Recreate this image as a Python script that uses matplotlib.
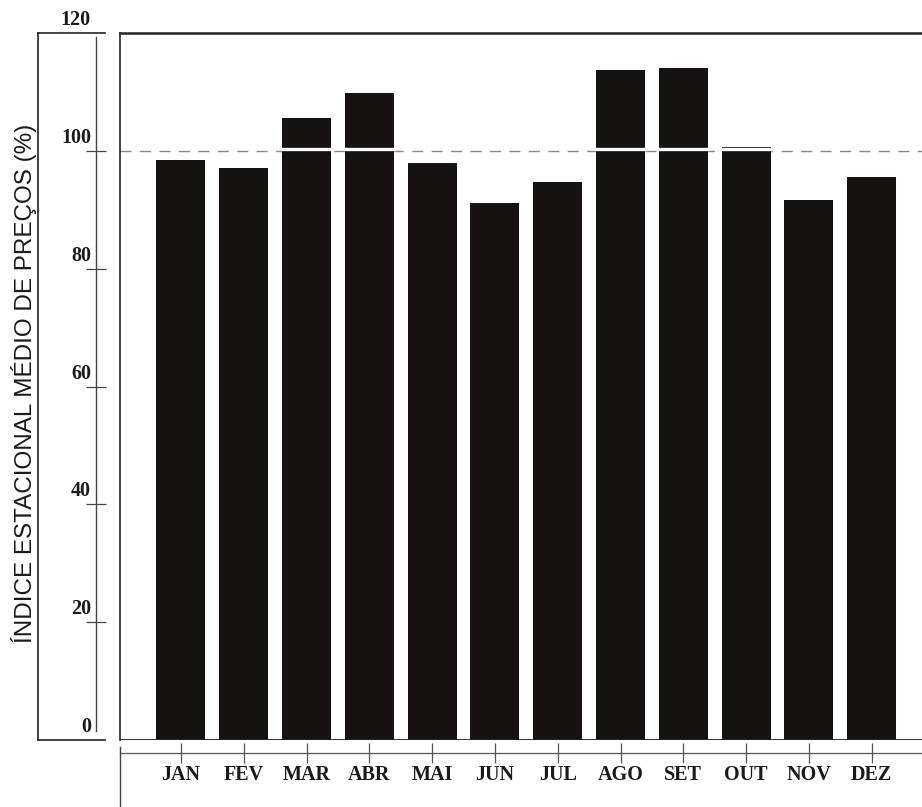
import matplotlib
matplotlib.use("Agg")
import matplotlib.pyplot as plt
from matplotlib.lines import Line2D
import numpy as np

months = ["JAN", "FEV", "MAR", "ABR", "MAI", "JUN", "JUL", "AGO", "SET", "OUT", "NOV", "DEZ"]
values = [98.4, 97.1, 105.5, 109.8, 98.0, 91.1, 94.7, 113.7, 114.0, 100.6, 91.7, 95.5]
y_ticks = [0, 20, 40, 60, 80, 100, 120]
y_label = "ÍNDICE ESTACIONAL MÉDIO DE PREÇOS (%)"
reference = 100

W, H = 922, 807
fig = plt.figure(figsize=(W / 100, H / 100), dpi=100)
fig.patch.set_facecolor("white")

serif = ["Liberation Serif", "DejaVu Serif"]
sans = ["Liberation Sans", "DejaVu Sans"]

bottom = (H - 740) / H
height = (740 - 33) / H
ink = "#161212"

# main plot
ax = fig.add_axes([120 / W, bottom, 1 - 120 / W, height])
x = np.arange(len(months))
bw = 0.78
ax.bar(x, values, width=bw, color=ink, zorder=3)
ax.set_xlim(-0.97, 11.8)
ax.set_ylim(0, 120)

# reference dashed line at 100
ax.axhline(reference, color="#888888", lw=1.0, ls=(0, (8, 6)), zorder=1)
# white gap across bars exceeding 100
xv = np.array(x, dtype=float)
vv = np.array(values)
sel = vv > reference
ax.hlines([reference + 0.3] * int(sel.sum()), xv[sel] - bw / 2 - 0.02, xv[sel] + bw / 2 + 0.02,
          colors="white", lw=2.4, zorder=4)

# frame
ax.spines["right"].set_visible(False)
ax.spines["top"].set_linewidth(1.8)
ax.spines["top"].set_color("#222222")
ax.spines["left"].set_linewidth(1.2)
ax.spines["left"].set_color("#222222")
ax.axhline(0, color="#222222", lw=2.0, zorder=5)
ax.set_yticks([])

# bottom axis (offset)
ax.spines["bottom"].set_position(("outward", 9.5))
ax.spines["bottom"].set_linewidth(0.9)
ax.spines["bottom"].set_color("#555555")
ax.set_xticks(x)
ax.set_xticklabels(months, fontfamily=serif, fontweight="bold", fontsize=14.5, color="#1a1a1a")
ax.tick_params(axis="x", direction="inout", length=15, width=0.9, color="#555555", pad=1)

# left vertical line under the x axis
fig.add_artist(Line2D([120 / W, 120 / W], [0, (H - 747) / H], color="#444444", lw=1.0))

# separate y-axis box
ax2 = fig.add_axes([38 / W, bottom, (105 - 38) / W, height])
ax2.set_xlim(0, 1)
ax2.set_ylim(0, 120)
ax2.set_xticks([])
ax2.patch.set_alpha(0)
for s in ["left", "top", "bottom"]:
    ax2.spines[s].set_linewidth(1.2)
    ax2.spines[s].set_color("#222222")
ax2.spines["right"].set_position(("axes", 0.866))
ax2.spines["right"].set_bounds(1.5, 119.3)
ax2.spines["right"].set_linewidth(1.0)
ax2.spines["right"].set_color("#444444")
ax2.yaxis.set_ticks_position("right")
ax2.set_yticks(y_ticks[1:-1])
ax2.tick_params(axis="y", direction="inout", length=15, width=0.9, color="#444444",
                labelright=False, labelleft=False)
for v in y_ticks:
    ax2.text(0.79, v + 0.5, str(v), ha="right", va="bottom", fontfamily=serif,
             fontweight="bold", fontsize=14.5, color="#1a1a1a", transform=ax2.transData)

fig.text(24 / W, 1 - 383 / H, y_label, rotation=90, ha="center", va="center",
         fontfamily=sans, fontsize=17.5, color="#1a1a1a")

fig.savefig("out.png", dpi=100, facecolor="white")
